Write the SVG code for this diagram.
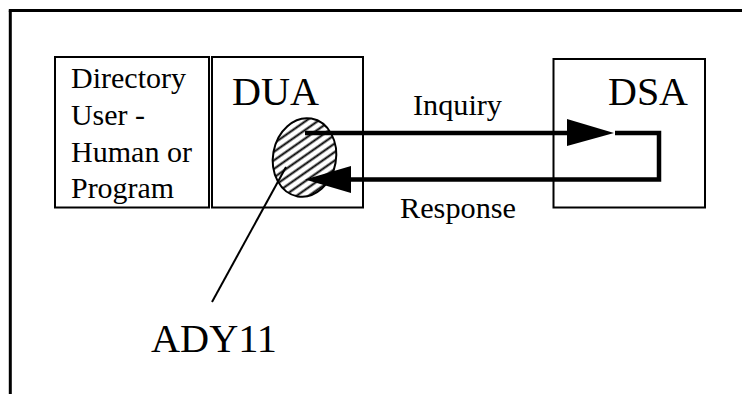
<svg xmlns="http://www.w3.org/2000/svg" width="742" height="394" viewBox="0 0 742 394">
  <style>
    .box { fill: #fff; stroke: #000; stroke-width: 2; }
    .big { font-size: 40px; }
    .mid { font-size: 30px; }
    .flow { fill: none; stroke: #000; stroke-width: 4.5; }
    .head { fill: #000; stroke: none; }
  </style>
  <defs>
    <pattern id="hatch" patternUnits="userSpaceOnUse" width="7" height="7" patternTransform="rotate(-45)">
      <rect width="7" height="7" fill="#fff"/>
      <line x1="0" y1="3.5" x2="7" y2="3.5" stroke="#000" stroke-width="2"/>
    </pattern>
  </defs>
  <rect width="742" height="394" fill="#fff"/>

  <!-- frame -->
  <g id="frame" fill="none" stroke="#000" stroke-width="3">
    <line x1="10.3" y1="10.5" x2="10.3" y2="394"/>
    <line x1="8.8" y1="10.5" x2="742" y2="10.5"/>
  </g>

  <g font-family="Times New Roman, Tinos, DejaVu Serif, serif" fill="#000">
    <g id="user">
      <rect class="box" x="55" y="57" width="154" height="150.5"/>
      <text class="mid" x="71" y="88" textLength="115" lengthAdjust="spacingAndGlyphs">Directory</text>
      <text class="mid" x="71" y="125" textLength="74" lengthAdjust="spacingAndGlyphs">User -</text>
      <text class="mid" x="71" y="162" textLength="121" lengthAdjust="spacingAndGlyphs">Human or</text>
      <text class="mid" x="71" y="198" textLength="103" lengthAdjust="spacingAndGlyphs">Program</text>
    </g>

    <g id="dua">
      <rect class="box" x="212" y="57" width="151" height="150.5"/>
      <text class="big" x="232" y="105" textLength="87" lengthAdjust="spacingAndGlyphs">DUA</text>
    </g>

    <g id="dsa">
      <rect class="box" x="553.5" y="59" width="151.5" height="148.5"/>
      <text class="big" x="608" y="105" textLength="80" lengthAdjust="spacingAndGlyphs">DSA</text>
    </g>

    <g id="ady11">
      <ellipse cx="304.5" cy="157.5" rx="31.5" ry="39.5" transform="rotate(10 304.5 157.5)" fill="url(#hatch)" stroke="#000" stroke-width="2"/>
      <text class="big" x="151" y="352" textLength="126" lengthAdjust="spacingAndGlyphs">ADY11</text>
    </g>

    <g id="connectors">
      <!-- inquiry -->
      <line class="flow" x1="305" y1="133" x2="568" y2="133"/>
      <polygon class="head" points="567,119 614,133 567,146"/>
      <!-- loop back inside DSA, then response -->
      <polyline class="flow" points="615,133 659,133 659,179.5 350,179.5"/>
      <polygon class="head" points="351,166 305,179.5 351,193"/>
      <!-- pointer to ADY11 -->
      <line x1="286" y1="167" x2="212" y2="302" stroke="#000" stroke-width="2"/>
      <text class="mid" x="413" y="115" textLength="89" lengthAdjust="spacingAndGlyphs">Inquiry</text>
      <text class="mid" x="400" y="218" textLength="116" lengthAdjust="spacingAndGlyphs">Response</text>
    </g>
  </g>
</svg>
